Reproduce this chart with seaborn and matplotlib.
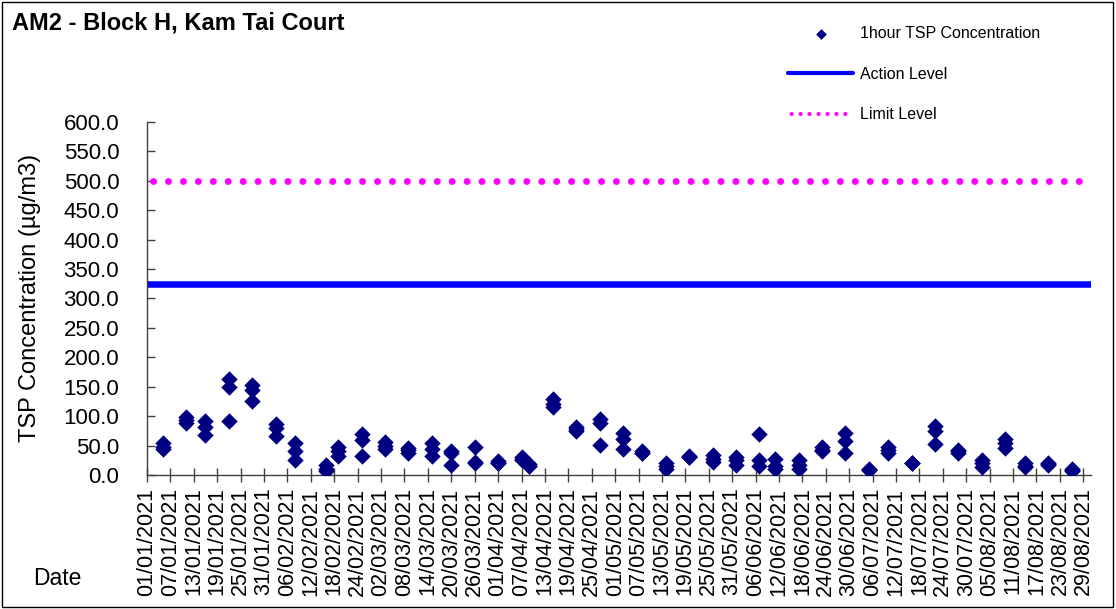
import matplotlib
matplotlib.use('Agg')
import matplotlib.pyplot as plt
from matplotlib.patches import Rectangle
import pandas as pd
import seaborn as sns

# sampling days, three 1-hour readings each
sample_dates = ['05/01/2021', '11/01/2021', '16/01/2021', '22/01/2021', '28/01/2021',
                '03/02/2021', '08/02/2021', '16/02/2021', '19/02/2021', '25/02/2021',
                '03/03/2021', '09/03/2021', '15/03/2021', '20/03/2021', '26/03/2021',
                '01/04/2021', '07/04/2021', '09/04/2021', '15/04/2021', '21/04/2021',
                '27/04/2021', '03/05/2021', '08/05/2021', '14/05/2021', '20/05/2021',
                '26/05/2021', '01/06/2021', '07/06/2021', '11/06/2021', '17/06/2021',
                '23/06/2021', '29/06/2021', '05/07/2021', '10/07/2021', '16/07/2021',
                '22/07/2021', '28/07/2021', '03/08/2021', '09/08/2021', '14/08/2021',
                '20/08/2021', '26/08/2021']
tsp_1 = [54, 98, 91, 163, 153, 86, 55, 17, 48, 70, 56, 46, 54, 41, 48, 23, 31, 18, 129, 82, 96,
         71, 40, 20, 33, 34, 31, 70, 27, 25, 48, 72, 10, 48, 21, 83, 42, 25, 61, 20, 20, 11]
tsp_2 = [48, 93, 82, 149, 144, 80, 41, 10, 40, 60, 50, 42, 45, 38, 22, 21, 28, 16, 120, 78, 89,
         62, 38, 15, 31, 28, 25, 25, 15, 17, 43, 57, 9, 42, 20, 75, 40, 20, 54, 16, 18, 8]
tsp_3 = [44, 89, 68, 91, 126, 67, 26, 7, 32, 32, 45, 38, 33, 17, 20, 20, 26, 15, 116, 75, 51,
         44, 37, 11, 30, 22, 17, 15, 11, 11, 40, 38, 8, 37, 20, 53, 38, 14, 46, 14, 17, 6]

action_level = 325
limit_level = 500

tick_labels = ['01/01/2021', '07/01/2021', '13/01/2021', '19/01/2021', '25/01/2021',
               '31/01/2021', '06/02/2021', '12/02/2021', '18/02/2021', '24/02/2021',
               '02/03/2021', '08/03/2021', '14/03/2021', '20/03/2021', '26/03/2021',
               '01/04/2021', '07/04/2021', '13/04/2021', '19/04/2021', '25/04/2021',
               '01/05/2021', '07/05/2021', '13/05/2021', '19/05/2021', '25/05/2021',
               '31/05/2021', '06/06/2021', '12/06/2021', '18/06/2021', '24/06/2021',
               '30/06/2021', '06/07/2021', '12/07/2021', '18/07/2021', '24/07/2021',
               '30/07/2021', '05/08/2021', '11/08/2021', '17/08/2021', '23/08/2021',
               '29/08/2021']

df = pd.DataFrame({
    'date': pd.to_datetime(sample_dates * 3, format='%d/%m/%Y'),
    'tsp': tsp_1 + tsp_2 + tsp_3,
})

sns.set_theme(style='white')
plt.rcParams['font.family'] = ['Liberation Sans', 'DejaVu Sans']
for key in ['text.color', 'axes.labelcolor', 'xtick.color', 'ytick.color']:
    plt.rcParams[key] = 'black'

fig = plt.figure(figsize=(11.16, 6.09), dpi=100)
ax = fig.add_axes([0.1317, 0.22, 0.846, 0.58])

sns.scatterplot(data=df, x='date', y='tsp', marker='D', s=70, color='#000080',
                edgecolor='#000080', linewidth=0, ax=ax, label='1hour TSP Concentration', zorder=3)
ax.axhline(action_level, color='#0000FF', lw=4.7, label='Action Level', zorder=2)
ax.axhline(limit_level, color='#FF00FF', lw=5, linestyle=(1.28, (0.01, 2.14)),
           dash_capstyle='round', label='Limit Level', zorder=2)

ax.set_xlim(pd.Timestamp('2021-01-01'), pd.Timestamp('2021-08-31'))
ax.set_ylim(0, 600)
ax.set_yticks(range(0, 601, 50))
ax.set_yticklabels(['%.1f' % v for v in range(0, 601, 50)], fontsize=16)
ax.set_xticks(pd.to_datetime(tick_labels, format='%d/%m/%Y'))
ax.set_xticklabels(tick_labels, rotation=90, fontsize=15.5)
ax.tick_params(axis='x', direction='inout', length=10, width=1, color='#404040', pad=4,
               bottom=True)
ax.tick_params(axis='y', direction='in', length=5.5, width=1, color='#404040', pad=20,
               left=True)

for side in ['top', 'right']:
    ax.spines[side].set_visible(False)
for side in ['left', 'bottom']:
    ax.spines[side].set_color('#404040')
    ax.spines[side].set_linewidth(1)

ax.set_xlabel('')
ax.set_ylabel('TSP Concentration (µg/m3)', fontsize=17)
ax.yaxis.set_label_coords(-0.112, 0.5)

fig.text(0.011, 0.963, 'AM2 - Block H, Kam Tai Court', fontsize=17, fontweight='bold',
         va='center', ha='left')
fig.text(0.03, 0.05, 'Date', fontsize=16.5, va='center', ha='left')

leg = ax.legend(loc='upper left', bbox_to_anchor=(0.706, 0.957), bbox_transform=fig.transFigure,
                frameon=False, fontsize=11.5, handlelength=4.1, handletextpad=0.4,
                labelspacing=1.6, borderpad=0, borderaxespad=0)
leg.legend_handles[0].set_sizes([30])
leg.legend_handles[1].set_linewidth(3)
leg.legend_handles[2].set_linewidth(3)

fig.patches.append(Rectangle((0.002, 0.003), 0.995, 0.994, transform=fig.transFigure,
                             fill=False, edgecolor='black', lw=1))

fig.savefig('out.png', dpi=100)
